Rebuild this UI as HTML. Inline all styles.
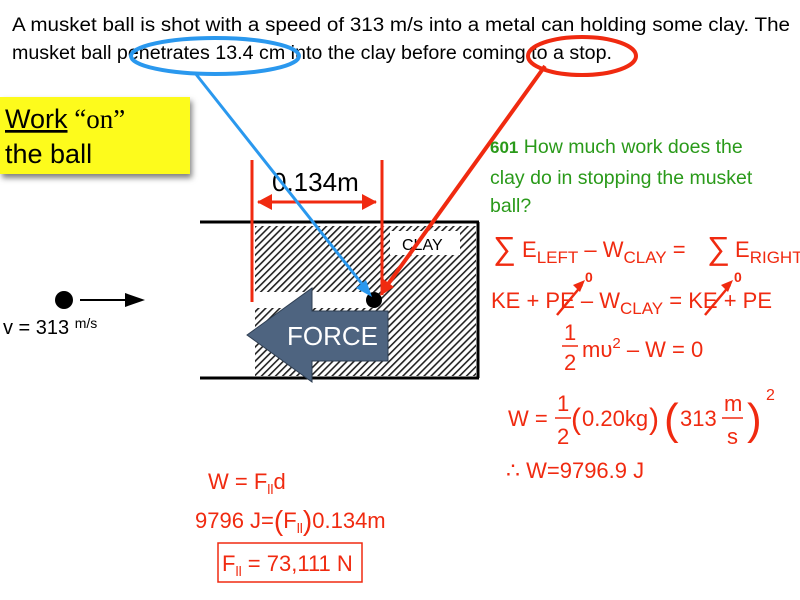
<!DOCTYPE html>
<html><head><style>
html,body{margin:0;padding:0;background:#fff;}
svg{display:block;}
text{font-family:"Liberation Sans",Arial,sans-serif;}
</style></head><body>
<svg width="800" height="600" viewBox="0 0 800 600" xmlns="http://www.w3.org/2000/svg">
<defs>
<pattern id="h" width="5" height="5" patternUnits="userSpaceOnUse" patternTransform="rotate(45)">
<rect width="5" height="5" fill="#fff"/><rect width="1.6" height="5" fill="#222"/>
</pattern>
<filter id="sh" x="-10%" y="-10%" width="130%" height="140%"><feDropShadow dx="2" dy="4" stdDeviation="3" flood-opacity="0.5"/></filter>
</defs>

<text x="12" y="31" font-size="19" fill="#000" textLength="778" lengthAdjust="spacingAndGlyphs">A musket ball is shot with a speed of 313 m/s into a metal can holding some clay.  The</text>
<text x="12" y="59" font-size="19" fill="#000" textLength="600" lengthAdjust="spacingAndGlyphs">musket ball penetrates 13.4 cm into the clay before coming to a stop.</text>

<!-- yellow box -->
<rect x="0" y="97" width="190" height="77" fill="#fdfb1c" filter="url(#sh)"/>
<text x="5" y="128" font-size="27" fill="#000"><tspan text-decoration="underline">Work</tspan><tspan font-family="Liberation Serif"> “on”</tspan></text>
<text x="5" y="163" font-size="27" fill="#000">the ball</text>

<!-- clay container -->
<rect x="255" y="226" width="221" height="150" fill="url(#h)"/>
<rect x="255" y="292" width="120" height="16" fill="#fff"/>
<rect x="390" y="231" width="70" height="24" fill="#fff"/>
<text x="402" y="250" font-size="16" fill="#000">CLAY</text>
<line x1="200" y1="222" x2="479" y2="222" stroke="#000" stroke-width="3"/>
<line x1="200" y1="378" x2="479" y2="378" stroke="#000" stroke-width="3"/>
<line x1="478" y1="222" x2="478" y2="378" stroke="#000" stroke-width="3"/>

<!-- force arrow -->
<path d="M247,335 L312,288 L312,311 L388,311 L388,361 L312,361 L312,382 Z" fill="#4e6480" stroke="#2e3e52" stroke-width="1"/>
<text x="287" y="345" font-size="26" fill="#fff">FORCE</text>

<!-- dimension -->
<line x1="252" y1="160" x2="252" y2="302" stroke="#f02a10" stroke-width="3"/>
<line x1="382" y1="160" x2="382" y2="295" stroke="#f02a10" stroke-width="3"/>
<line x1="258" y1="202" x2="376" y2="202" stroke="#f02a10" stroke-width="3"/>
<path d="M257,202 L272,194 L272,210 Z" fill="#f02a10"/>
<path d="M377,202 L362,194 L362,210 Z" fill="#f02a10"/>
<text x="272" y="191" font-size="26" fill="#000">0.134m</text>

<circle cx="374" cy="300" r="8" fill="#000"/>

<ellipse cx="215" cy="56" rx="84" ry="18" fill="none" stroke="#2a98ee" stroke-width="4"/>
<line x1="195" y1="73" x2="366" y2="289" stroke="#2a98ee" stroke-width="3"/>
<path d="M372,297 L356,288 L366,280 Z" fill="#2a98ee"/>
<ellipse cx="582" cy="56" rx="54" ry="19" fill="none" stroke="#f02a10" stroke-width="4"/>
<line x1="545" y1="66" x2="386" y2="287" stroke="#f02a10" stroke-width="4"/>
<path d="M380,296 L382,278 L394,287 Z" fill="#f02a10"/>

<circle cx="64" cy="300" r="9" fill="#000"/>
<line x1="80" y1="300" x2="128" y2="300" stroke="#000" stroke-width="2"/>
<path d="M145,300 L125,293 L125,307 Z" fill="#000"/>
<text x="3" y="334" font-size="20" fill="#000">v = 313 <tspan font-size="14" dy="-6">m/s</tspan></text>

<g fill="#2a9a1a" font-size="19.5">
<text x="490" y="153"><tspan font-weight="bold" font-size="17">601</tspan>    How much work does the</text>
<text x="490" y="184">clay do in stopping the musket</text>
<text x="490" y="212">ball?</text>
</g>

<g fill="#f02a10" font-size="22">
<text x="493" y="259" font-size="32">∑</text><text x="522" y="257">E<tspan font-size="17" dy="6">LEFT</tspan><tspan dy="-6"> – W</tspan><tspan font-size="17" dy="6">CLAY</tspan><tspan dy="-6"> = </tspan></text>
<text x="707" y="259" font-size="32">∑</text><text x="735" y="257">E<tspan font-size="17" dy="6">RIGHT</tspan></text>
<text x="491" y="308">KE + PE – W<tspan font-size="17" dy="6">CLAY</tspan><tspan dy="-6"> = KE + PE</tspan></text>
<text x="585" y="282" font-size="14" font-weight="bold">0</text>
<text x="734" y="282" font-size="14" font-weight="bold">0</text>
<line x1="557" y1="315" x2="582" y2="285" stroke="#f02a10" stroke-width="2.5"/>
<path d="M585,280 L573,285 L580,292 Z" fill="#f02a10"/>
<line x1="705" y1="315" x2="730" y2="285" stroke="#f02a10" stroke-width="2.5"/>
<path d="M733,280 L721,285 L728,292 Z" fill="#f02a10"/>
<text x="564" y="340">1</text><line x1="562" y1="346" x2="578" y2="346" stroke="#f02a10" stroke-width="1.5"/><text x="564" y="370">2</text>
<text x="582" y="357">mυ<tspan font-size="15" dy="-9">2</tspan><tspan dy="9"> – W = 0</tspan></text>
<text x="508" y="426">W =</text>
<text x="557" y="411">1</text><line x1="555" y1="418" x2="571" y2="418" stroke="#f02a10" stroke-width="1.5"/><text x="557" y="444">2</text>
<text x="571" y="429" font-size="30">(</text><text x="582" y="426">0.20kg</text><text x="649" y="429" font-size="30">)</text>
<text x="664" y="434" font-size="44">(</text><text x="680" y="426">313</text>
<text x="724" y="411">m</text><line x1="722" y1="418" x2="743" y2="418" stroke="#f02a10" stroke-width="1.5"/><text x="727" y="444">s</text>
<text x="747" y="434" font-size="44">)</text><text x="766" y="400" font-size="16">2</text>
<text x="506" y="478">∴ W=9796.9 J</text>

<text x="208" y="489">W = F<tspan font-size="14" dy="5">ll</tspan><tspan dy="-5">d</tspan></text>
<text x="195" y="528">9796 J=<tspan font-size="28" dy="2">(</tspan><tspan dy="-2">F</tspan><tspan font-size="14" dy="5">ll</tspan><tspan font-size="28" dy="-3">)</tspan><tspan dy="-2">0.134m</tspan></text>
<rect x="218" y="543" width="144" height="39" fill="none" stroke="#f02a10" stroke-width="1.5"/>
<text x="222" y="571">F<tspan font-size="14" dy="5">ll</tspan><tspan dy="-5"> = 73,111 N</tspan></text>
</g>
</svg>
</body></html>
